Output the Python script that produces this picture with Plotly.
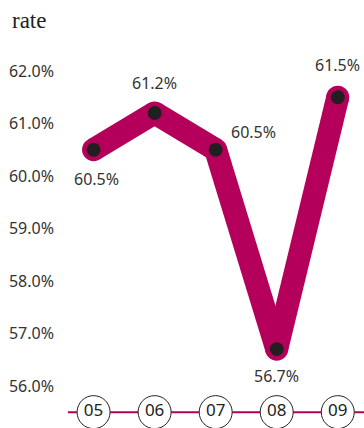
import plotly.graph_objects as go

# Data
years = ["05", "06", "07", "08", "09"]
rate = [60.5, 61.2, 60.5, 56.7, 61.5]
y_ticks = [56, 57, 58, 59, 60, 61, 62]

# Styling
LINE_COLOR = "#B5005B"
DOT_COLOR = "#231F20"
TEXT_COLOR = "#333333"
SANS = "Noto Sans"
LINE_W = 23
axis_row = 55.5  # vertical level of the circled year labels

# value-label offsets (px) for each point
label_shift = [(3, -29), (0, 30), (38, 18), (0, -27), (0, 32)]

fig = go.Figure()

# thick line drawn segment by segment; round dots at vertices give round joins/caps
for i in range(len(years) - 1):
    fig.add_trace(go.Scatter(
        x=[years[i], years[i + 1]], y=[rate[i], rate[i + 1]],
        mode="lines", line=dict(color=LINE_COLOR, width=LINE_W),
        hoverinfo="skip", showlegend=False))
fig.add_trace(go.Scatter(
    x=years, y=rate, mode="markers",
    marker=dict(color=LINE_COLOR, size=LINE_W, line=dict(width=0)),
    hoverinfo="skip", showlegend=False))
fig.add_trace(go.Scatter(
    x=years, y=rate, mode="markers",
    marker=dict(color=DOT_COLOR, size=14, line=dict(width=0)),
    showlegend=False))

# axis baseline with circled year labels
fig.add_shape(type="line", xref="paper", yref="y", x0=0.026, x1=1,
              y0=axis_row, y1=axis_row,
              line=dict(color=LINE_COLOR, width=2), layer="below")
fig.add_trace(go.Scatter(
    x=years, y=[axis_row] * len(years), mode="markers+text",
    text=years, textposition="middle center",
    textfont=dict(family=SANS, size=17, color="#222222"),
    marker=dict(symbol="circle", size=33, color="white",
                line=dict(color="#222222", width=1)),
    hoverinfo="skip", showlegend=False, cliponaxis=False))

# value labels
for i, v in enumerate(rate):
    dx, dy = label_shift[i]
    fig.add_annotation(x=i, y=v, xref="x", yref="y", text=f"{v:.1f}%",
                       showarrow=False, xshift=dx, yshift=dy,
                       font=dict(family=SANS, size=16, color=TEXT_COLOR))

fig.update_layout(
    width=364, height=428,
    margin=dict(l=60, r=0, t=40, b=0),
    paper_bgcolor="white", plot_bgcolor="white",
    title=dict(text="rate", x=12 / 364, xanchor="left", xref="container",
               y=1 - 20 / 428, yanchor="middle", yref="container",
               font=dict(family="Liberation Serif", size=23, color="#222222")),
    xaxis=dict(type="category", range=[-0.55, 4.43], showgrid=False,
               zeroline=False, showline=False, showticklabels=False, ticks=""),
    yaxis=dict(range=[55.198, 62.59], tickvals=y_ticks,
               ticktext=[f"{t:.1f}%" for t in y_ticks],
               showgrid=False, zeroline=False, showline=False, ticks="",
               tickfont=dict(family=SANS, size=16, color=TEXT_COLOR),
               ticklabelstandoff=5),
)

fig.write_html("out.html")
